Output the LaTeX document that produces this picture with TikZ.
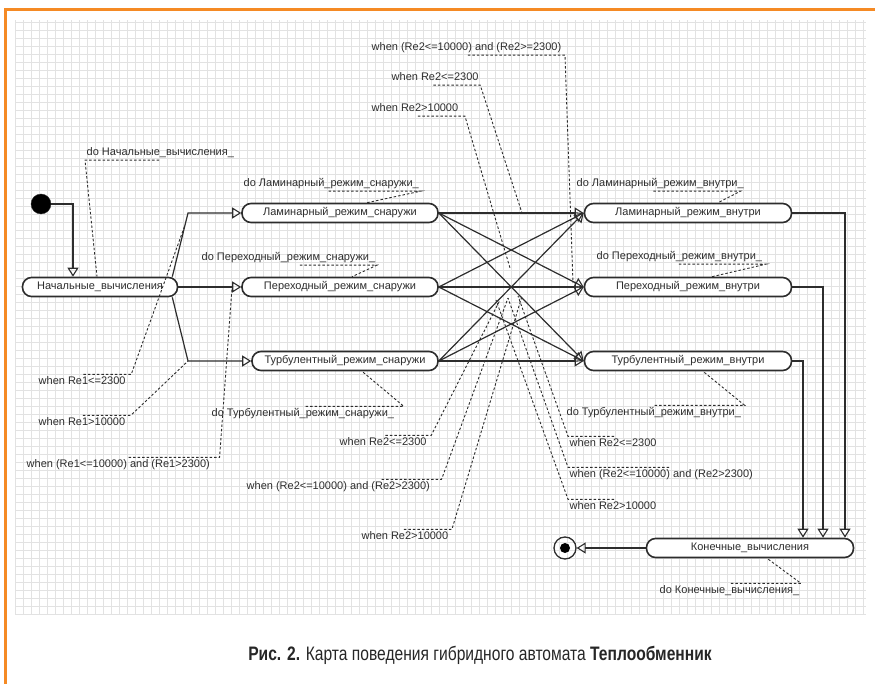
\documentclass[tikz,border=0pt]{standalone}
\usepackage{fontspec}
\setmainfont{Liberation Sans}
\newfontfamily\capfont[FakeStretch=0.8]{Liberation Sans}
\usetikzlibrary{arrows.meta}

\definecolor{frameorange}{RGB}{245,138,36}
\definecolor{gridgray}{RGB}{226,226,226}
\definecolor{inkgray}{RGB}{45,45,45}

\tikzset{
    leader/.style={draw=inkgray, line width=0.9pt, dash pattern=on 2.5pt off 2pt},
    note/.style={anchor=base west, inner sep=1.5pt, text height=8pt, text depth=2.5pt,
        text=inkgray, font=\fontsize{11}{13}\selectfont}
}

\begin{document}
\begin{tikzpicture}[x=1pt, y=-1pt]
\useasboundingbox (0,0) rectangle (875,684);

% grid and frame
\foreach \x in {15,23,...,863} \draw[gridgray, line width=0.6pt] (\x,20) -- (\x,614);
\foreach \y in {22,30,...,614} \draw[gridgray, line width=0.6pt] (15,\y) -- (866,\y);
\draw[frameorange, line width=3pt] (5,684) -- (5,10) -- (875,10);

\begin{scope}[
    every node/.style={
        draw=inkgray,
        line width=1.6pt,
        rounded corners=9pt,
        fill=white,
        minimum height=19pt,
        inner sep=0pt,
        text=inkgray,
        font=\fontsize{11}{13}\selectfont}]

    \node[minimum width=155pt] (nach) at (100,287) {Начальные\_вычисления};
    \node[minimum width=196pt] (lamout) at (340,213) {Ламинарный\_режим\_снаружи};
    \node[minimum width=196pt] (perout) at (340,287) {Переходный\_режим\_снаружи};
    \node[minimum width=186pt] (turbout) at (345,361) {Турбулентный\_режим\_снаружи};
    \node[minimum width=207pt] (laminn) at (688,213) {Ламинарный\_режим\_внутри};
    \node[minimum width=207pt] (perinn) at (688,287) {Переходный\_режим\_внутри};
    \node[minimum width=207pt] (turbinn) at (688,361) {Турбулентный\_режим\_внутри};
    \node[minimum width=207pt] (kon) at (750,548) {Конечные\_вычисления};
\end{scope}

\node[circle, fill=black, draw=inkgray, minimum size=20pt, inner sep=0pt] (start) at (41,204) {};
\node[circle, draw=inkgray, line width=1.3pt, minimum size=22pt, inner sep=0pt,
    path picture={\fill[black] (path picture bounding box.center) circle (5pt);}] (stop) at (565,548) {};

\coordinate (jlam) at (188,213);
\coordinate (jturb) at (188,361);

\begin{scope}[>={Triangle[open, length=9pt, width=11pt, line width=1.1pt]},
              every edge/.style={draw=inkgray, line width=1.2pt}]

    \draw[->, inkgray, line width=1.2pt] (start) -| ([xshift=-27pt]nach.north);
    \draw[->, inkgray, line width=1.2pt] ([xshift=-6pt]nach.north east) -- (jlam) -- (lamout);
    \path [->] (nach) edge (perout);
    \draw[->, inkgray, line width=1.2pt] ([xshift=-6pt]nach.south east) -- (jturb) -- (turbout);

    \foreach \a in {lamout,perout,turbout}
        \foreach \b in {laminn,perinn,turbinn}
            \path [->] (\a.east) edge (\b.west);

    \draw[->, inkgray, line width=1.2pt] (laminn) -| ([xshift=95pt]kon.north);
    \draw[->, inkgray, line width=1.2pt] (perinn) -| ([xshift=73pt]kon.north);
    \draw[->, inkgray, line width=1.2pt] (turbinn) -| ([xshift=53pt]kon.north);
    \path [->] (kon) edge (stop);
\end{scope}

% activities
\node[note] (donach) at (85,156) {do Начальные\_вычисления\_};
\node[note] (dolamout) at (242,187) {do Ламинарный\_режим\_снаружи\_};
\node[note] (doperout) at (200,261) {do Переходный\_режим\_снаружи\_};
\node[note] (doturbout) at (210,416) {do Турбулентный\_режим\_снаружи\_};
\node[note] (dolaminn) at (575,187) {do Ламинарный\_режим\_внутри\_};
\node[note] (doperinn) at (595,260) {do Переходный\_режим\_внутри\_};
\node[note] (doturbinn) at (565,415) {do Турбулентный\_режим\_внутри\_};
\node[note] (dokon) at (658,593) {do Конечные\_вычисления\_};

\draw[leader] ([xshift=74pt]donach.south west) -- (donach.south west) -- ([xshift=-3pt]nach.north);
\draw[leader] ([xshift=-92pt]dolamout.south east) -- (dolamout.south east) -- ([xshift=27pt]lamout.north);
\draw[leader] ([xshift=-77pt]doperout.south east) -- (doperout.south east) -- ([xshift=12pt]perout.north);
\draw[leader] ([xshift=-90pt]doturbout.north east) -- ([xshift=8pt]doturbout.north east) -- ([xshift=17pt]turbout.south);
\draw[leader] ([xshift=-92pt]dolaminn.south east) -- ([xshift=-5pt]dolaminn.south east) -- ([xshift=30pt]laminn.north);
\draw[leader] ([xshift=-85pt]doperinn.south east) -- ([xshift=2pt]doperinn.south east) -- ([xshift=24pt]perinn.north);
\draw[leader] ([xshift=-88pt]doturbinn.north east) -- ([xshift=2pt]doturbinn.north east) -- ([xshift=15pt]turbinn.south);
\draw[leader] ([xshift=-70pt]dokon.north east) -- (dokon.north east) -- ([xshift=17pt]kon.south);

% guards
\coordinate (g1end) at (185,225);
\coordinate (g3end) at (232,288);
\coordinate (top1end) at (573,283);
\coordinate (top2end) at (522,213);
\coordinate (top3end) at (510,268);
\coordinate (bl1end) at (500,300);
\coordinate (bl2end) at (508,298);
\coordinate (bl3end) at (522,296);
\coordinate (br1end) at (518,296);
\coordinate (br2end) at (508,298);
\coordinate (br3end) at (496,300);

\node[note] (g1) at (37,384) {when Re1<=2300};
\node[note] (g2) at (37,425) {when Re1>10000};
\node[note] (g3) at (25,467) {when (Re1<=10000) and (Re1>2300)};
\node[note] (top1) at (370,51) {when (Re2<=10000) and (Re2>=2300)};
\node[note] (top2) at (390,81) {when Re2<=2300};
\node[note] (top3) at (370,112) {when Re2>10000};
\node[note] (bl1) at (338,445) {when Re2<=2300};
\node[note] (bl2) at (245,489) {when (Re2<=10000) and (Re2>2300)};
\node[note] (bl3) at (360,539) {when Re2>10000};
\node[note] (br1) at (568,446) {when Re2<=2300};
\node[note] (br2) at (568,477) {when (Re2<=10000) and (Re2>2300)};
\node[note] (br3) at (568,509) {when Re2>10000};

\draw[leader] ([xshift=-44pt]g1.north east) -- ([xshift=4pt]g1.north east) -- (g1end);
\draw[leader] ([xshift=-44pt]g2.north east) -- ([xshift=4pt]g2.north east) -- (jturb);
\draw[leader] ([xshift=-83pt]g3.north east) -- ([xshift=8pt]g3.north east) -- (g3end);
\draw[leader] ([xshift=-95pt]top1.south east) -- ([xshift=2pt]top1.south east) -- (top1end);
\draw[leader] ([xshift=-47pt]top2.south east) -- (top2.south east) -- (top2end);
\draw[leader] ([xshift=-42pt]top3.south east) -- ([xshift=5pt]top3.south east) -- (top3end);
\draw[leader] ([xshift=-43pt]bl1.north east) -- ([xshift=3pt]bl1.north east) -- (bl1end);
\draw[leader] ([xshift=-50pt]bl2.north east) -- ([xshift=10pt]bl2.north east) -- (bl2end);
\draw[leader] ([xshift=-46pt]bl3.north east) -- ([xshift=2pt]bl3.north east) -- (bl3end);
\draw[leader] ([xshift=46pt]br1.north west) -- (br1.north west) -- (br1end);
\draw[leader] ([xshift=101pt]br2.north west) -- (br2.north west) -- (br2end);
\draw[leader] ([xshift=46pt]br3.north west) -- (br3.north west) -- (br3end);

% caption
\node (caption) at (480,655) {\capfont\fontsize{19.5}{22}\selectfont\color{black!85}%
    \textbf{Рис. 2.} Карта поведения гибридного автомата \textbf{Теплообменник}};

\end{tikzpicture}
\end{document}
